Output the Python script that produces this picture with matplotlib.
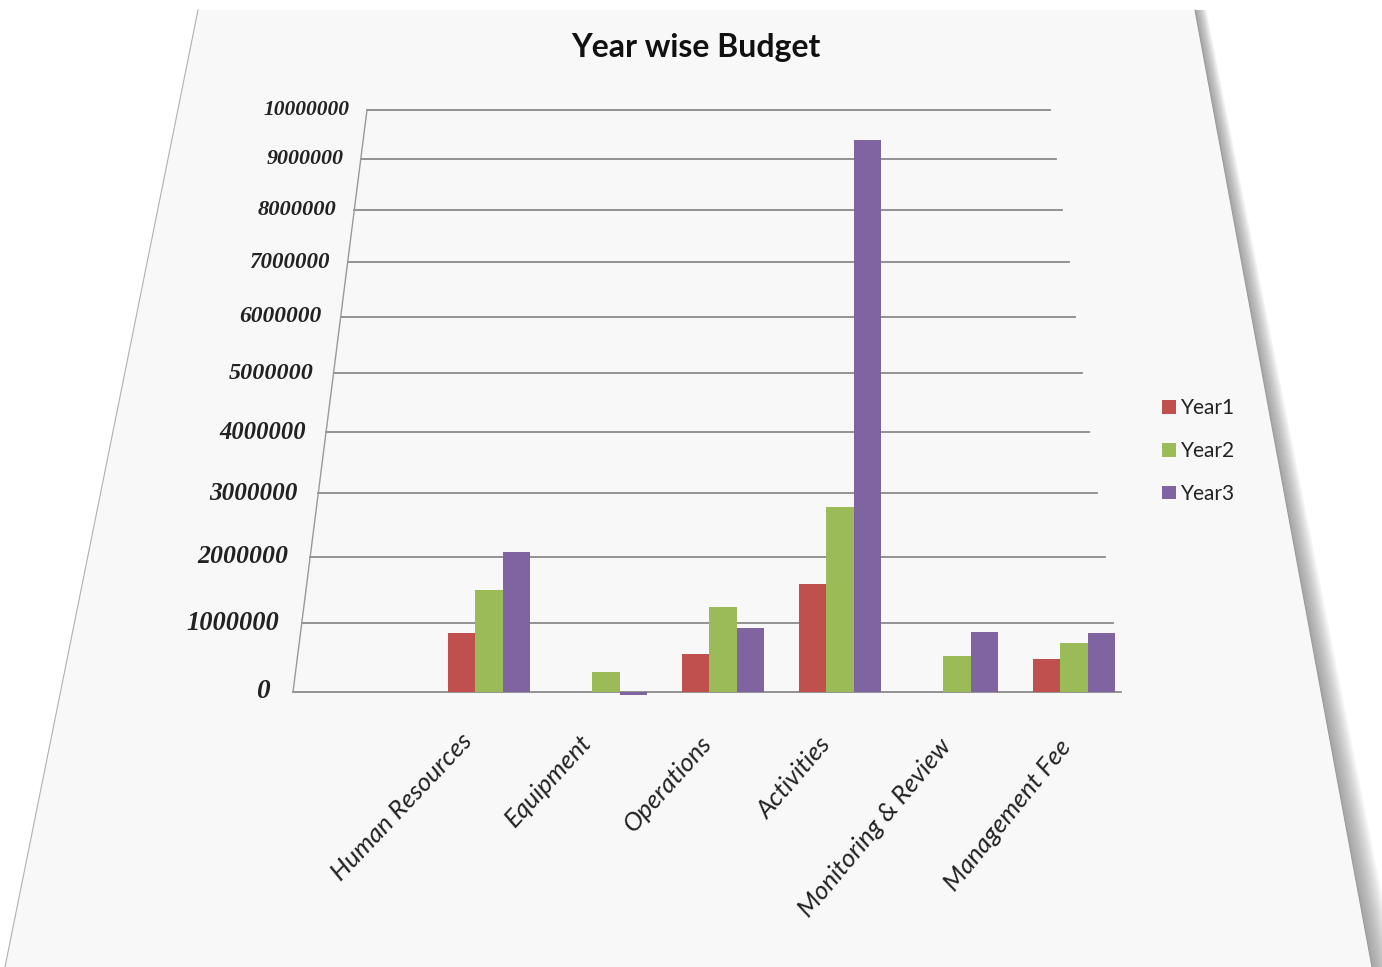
import numpy as np
import matplotlib
matplotlib.use("Agg")
import matplotlib.pyplot as plt
from matplotlib.patches import Polygon
from matplotlib.transforms import blended_transform_factory, offset_copy

# ---- data -------------------------------------------------------------
categories = ["", "Human Resources", "Equipment", "Operations", "Activities",
              "Monitoring & Review", "Management Fee"]
series_names = ["Year1", "Year2", "Year3"]
year1 = [0, 850000, 0, 540000, 1590000, 0, 480000]
year2 = [0, 1500000, 280000, 1240000, 2780000, 520000, 700000]
year3 = [0, 2070000, -40000, 920000, 9380000, 870000, 860000]
y_ticks = [0, 1000000, 2000000, 3000000, 4000000, 5000000,
           6000000, 7000000, 8000000, 9000000, 10000000]
title = "Year wise Budget"

colors = ["#C0504D", "#9BBB59", "#8064A2"]
grid_color = "#8A8A8A"

# ---- figure / page --------------------------------------------------------
W, H = 1382, 967
fig = plt.figure(figsize=(W / 100, H / 100), dpi=100)
fig.patch.set_facecolor("white")


def fx(px):
    return px / W


def fy(py):
    return 1 - py / H


# tilted sheet with a soft shadow on its right side
for k in range(16):
    wt = 1 + k * 0.7
    wb = 2 + k * 1.5
    shadow = Polygon([(fx(1195), fy(10)), (fx(1195 + wt), fy(10)),
                      (fx(1372 + wb), fy(967)), (fx(1372), fy(967))],
                     closed=True, transform=fig.transFigure,
                     facecolor="#707070", edgecolor="none", alpha=0.05,
                     zorder=-3)
    fig.patches.append(shadow)

paper = Polygon([(fx(198), fy(10)), (fx(1195), fy(10)),
                 (fx(1372), fy(967)), (fx(5), fy(967))],
                closed=True, transform=fig.transFigure,
                facecolor="#F8F8F8", edgecolor="none", zorder=-2)
fig.patches.append(paper)
fig.lines.append(plt.Line2D([fx(1195), fx(1372)], [fy(10), fy(967)],
                            transform=fig.transFigure, color="#9A9A9A",
                            lw=0.8, zorder=-1))
fig.lines.append(plt.Line2D([fx(198), fx(5)], [fy(10), fy(967)],
                            transform=fig.transFigure, color="#B0B0B0",
                            lw=0.8, zorder=-1))

# ---- plot area ------------------------------------------------------------
left_px, right_px, top_px, bottom_px = 293, 1121, 110, 692
ax = fig.add_axes([fx(left_px), fy(bottom_px),
                   (right_px - left_px) / W, (bottom_px - top_px) / H])
ax.patch.set_alpha(0)
for s in ax.spines.values():
    s.set_visible(False)

# receding value axis: values compress towards the top of the sheet
k_persp = 2.09e-8


def fwd(v):
    v = np.asarray(v, dtype=float)
    return v / (1 + k_persp * v)


def inv(y):
    y = np.asarray(y, dtype=float)
    return y / (1 - k_persp * y)


ax.set_yscale("function", functions=(fwd, inv))
ax.set_ylim(0, y_ticks[-1])
ax.set_xlim(-0.675, 6.40)
ax.set_xticks([])
ax.set_yticks([])
ax.minorticks_off()

width_px = right_px - left_px
shrink_left, shrink_right = 74, 71
blend = blended_transform_factory(ax.transAxes, ax.transData)
top_f = float(fwd(y_ticks[-1]))

for v in y_ticks:
    yf = float(fwd(v)) / top_f
    x0 = shrink_left * yf / width_px
    x1 = 1 - shrink_right * yf / width_px
    ax.plot([x0, x1], [v, v], transform=blend, color=grid_color, lw=1.3,
            clip_on=False, zorder=0.5)
    gap = 17 + 6 * (1 - yf)
    ax.text((shrink_left * yf - gap) / width_px, v, str(v), transform=blend,
            ha="right", va="center", family="Liberation Serif",
            weight="bold", style="italic", fontsize=19.6 - 4.1 * yf,
            color="#222222")

ax.plot([0, shrink_left / width_px], [0, y_ticks[-1]], transform=blend,
        color="#9A9A9A", lw=1.0, clip_on=False, zorder=0.6)

# ---- bars -----------------------------------------------------------------
x = np.arange(len(categories))
bw = 0.235
for j, (name, vals, c) in enumerate(zip(series_names, [year1, year2, year3],
                                        colors)):
    ax.bar(x + (j - 1) * bw, vals, width=bw, color=c, label=name,
           clip_on=False, zorder=2, linewidth=0)

# ---- category labels ------------------------------------------------------
xl_trans = blended_transform_factory(ax.transData, ax.transAxes)
n_lab = len(categories) - 1
for i, c in enumerate(categories):
    if not c:
        continue
    t = (i - 1) / (n_lab - 1)
    rot = 46.5 + 4.5 * t
    dx = -21 + 13 * t
    dy = 45 + 6 * t
    tr = offset_copy(xl_trans, fig=fig, x=dx, y=-dy, units="dots")
    ax.text(i, 0, c, transform=tr, rotation=rot, rotation_mode="anchor",
            ha="right", va="center", family="Lato", style="italic",
            fontsize=18.5, color="#222222")

# ---- title and legend -----------------------------------------------------
fig.text(fx(696), fy(48), title, ha="center", va="center", family="Lato",
         weight="bold", fontsize=23, color="#111111")

leg = ax.legend(loc="upper left", bbox_to_anchor=(fx(1162), fy(398)),
                bbox_transform=fig.transFigure, frameon=False,
                handlelength=0.65, handleheight=0.65, handletextpad=0.25,
                labelspacing=1.1, borderpad=0, borderaxespad=0,
                prop={"family": "Lato", "size": 15})
for txt in leg.get_texts():
    txt.set_color("#222222")

fig.savefig("out.png", dpi=100, facecolor="white")
